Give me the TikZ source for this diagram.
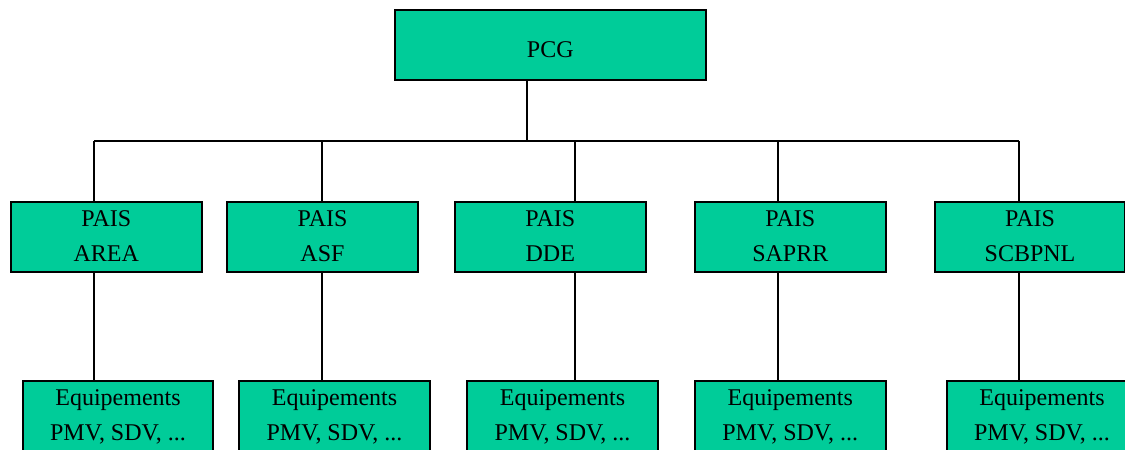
\documentclass[tikz,border=0pt]{standalone}
\usepackage{fontspec}
\setmainfont{Liberation Serif}
\definecolor{boxgreen}{RGB}{0,204,153}
\begin{document}
\begin{tikzpicture}[x=1pt,y=-1pt,
  box/.style={draw=black, line width=2pt, fill=boxgreen, minimum width=190.6pt, minimum height=70.5pt, inner sep=0pt, align=center, font=\fontsize{24}{35}\selectfont},
  twoline/.style={text height=53pt, text depth=5pt},
  oneline/.style={text height=25pt, text depth=0pt},
  conn/.style={draw=black, line width=2pt}]
\clip (0,0) rectangle (1125,450);
% top
\node[box, oneline, minimum width=311.5pt] (pcg) at (550.3,45) {PCG};
% middle row
\node[box, twoline] (m1) at (106.3,237) {PAIS\\AREA};
\node[box, twoline] (m2) at (322.5,237) {PAIS\\ASF};
\node[box, twoline] (m3) at (550.3,237) {PAIS\\DDE};
\node[box, twoline] (m4) at (790.3,237) {PAIS\\SAPRR};
\node[box, twoline] (m5) at (1030,237) {PAIS\\SCBPNL};
% bottom row
\node[box, twoline] (e1) at (118,416.5) {Equipements\\PMV, SDV, ...};
\node[box, twoline] (e2) at (334.5,416.5) {Equipements\\PMV, SDV, ...};
\node[box, twoline] (e3) at (562.5,416.5) {Equipements\\PMV, SDV, ...};
\node[box, twoline] (e4) at (790.3,416.5) {Equipements\\PMV, SDV, ...};
\node[box, twoline] (e5) at (1042,416.5) {Equipements\\PMV, SDV, ...};
% bus coordinates
\coordinate (j) at (526.7,140.7);
\coordinate (b1) at (94,140.7);
\coordinate (b2) at (322.3,140.7);
\coordinate (b3) at (574.5,140.7);
\coordinate (b4) at (778,140.7);
\coordinate (b5) at (1018.7,140.7);
% connectors
\draw[conn] (j |- pcg.south) -- (j);
\draw[conn] (b1) -- (b5);
\foreach \i in {1,...,5}{
  \draw[conn] (b\i) -- (m\i.north -| b\i);
  \draw[conn] (m\i.south -| b\i) -- (e\i.north -| b\i);
}
\end{tikzpicture}
\end{document}
